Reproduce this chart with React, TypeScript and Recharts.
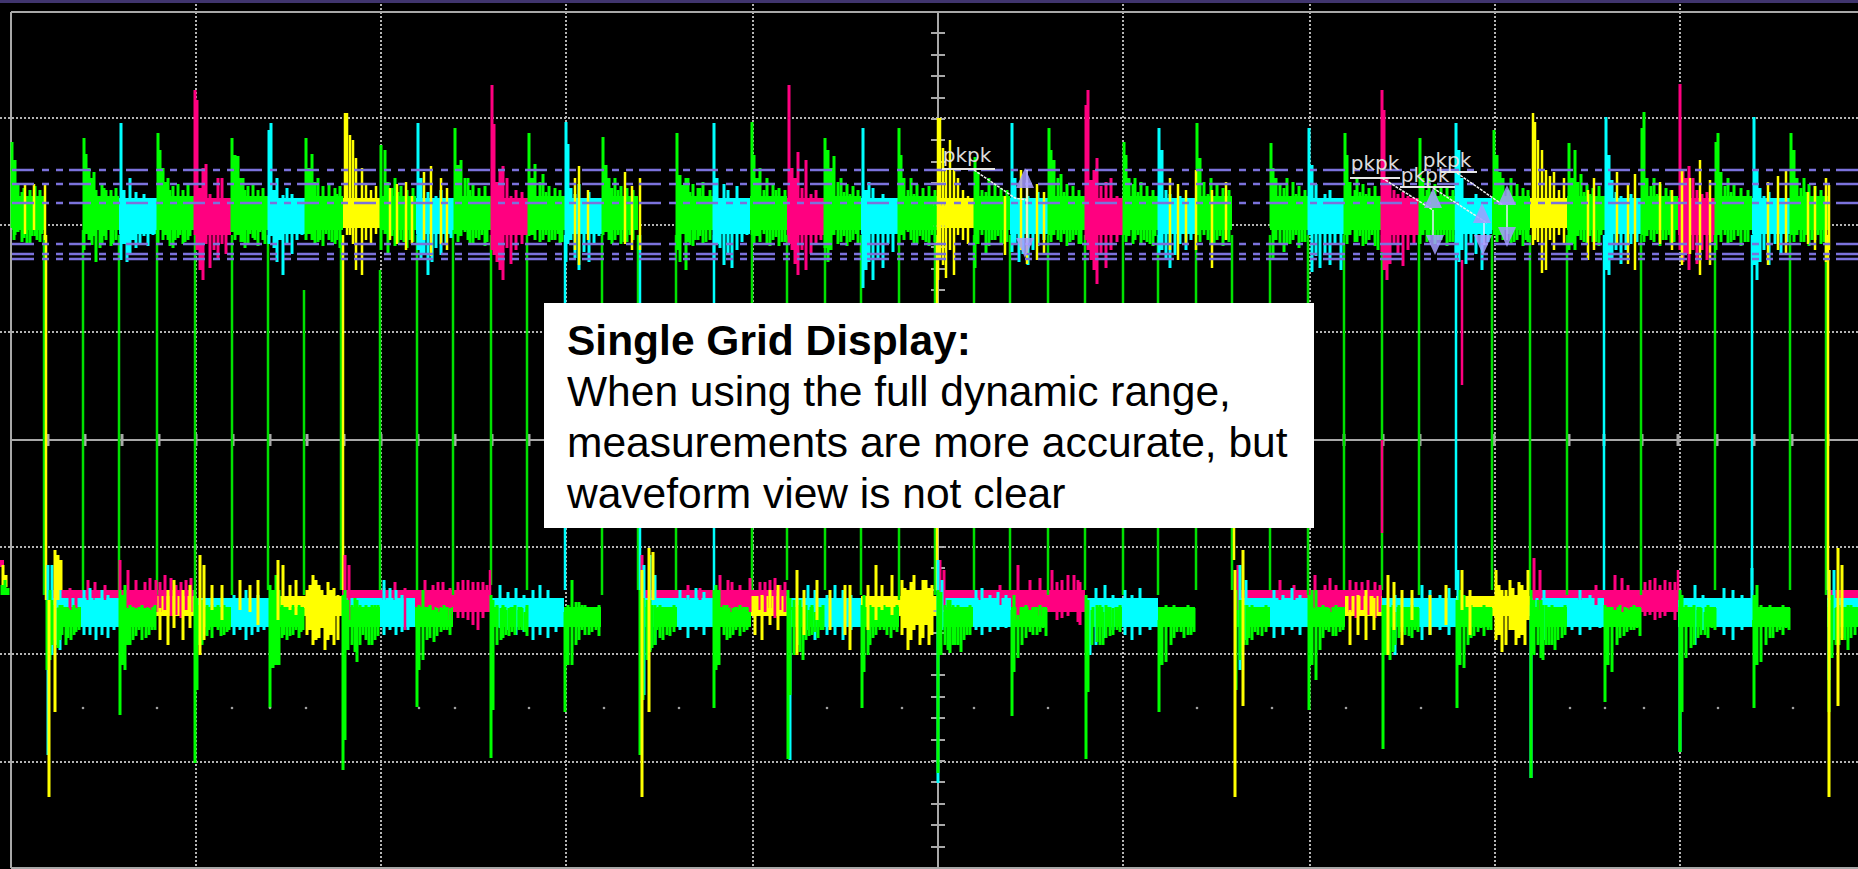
import React from "react";
import {
  Area,
  CartesianGrid,
  ComposedChart,
  Line,
  ReferenceDot,
  Scatter,
  XAxis,
  YAxis,
} from "recharts";

// time axis runs 0..1858 (185 units per division), level axis +440..-429 (107 units per division)
const gridTimes = [196, 381, 566, 753, 1123, 1310, 1495, 1680];
const gridLevels = [322, 215, 108, -107, -214, -322];
const measureLevels = [270, 256, 237, 196, 186, 181];
const centerTicks = [
  407, 385, 364, 342, 321, 300, 278, 257, 235, 214, 193, 171, 150, 128, 107, 86, 64, 43, 21,
  -21, -43, -64, -86, -107, -128, -150, -171, -193, -214, -235, -257, -278, -300, -321, -342, -364, -385, -407,
];
const centerTimeTicks = [
  48, 85, 122, 159, 196, 233, 270, 307, 344, 381, 418, 455, 492, 529, 1344, 1383, 1420, 1494, 1569, 1604, 1642, 1678, 1717, 1754, 1792, 1828,
];
const smallDots = [
  83, 157, 232, 270, 306, 419, 455, 529, 604, 679, 827, 902, 974, 1048, 1197, 1272, 1346, 1421, 1570, 1605, 1644, 1718, 1793,
];

// solid parts of the top trace [start, end]
const topGreenBand = [
  [11, 46], [83, 119], [157, 194], [231, 268], [305, 343], [380, 416], [454, 491], [528, 565], [602, 638],
  [676, 713], [750, 787], [825, 861], [899, 937], [974, 1010], [1048, 1085], [1123, 1158], [1195, 1232],
  [1270, 1308], [1344, 1382], [1419, 1456], [1492, 1530], [1567, 1605], [1641, 1678], [1715, 1752], [1791, 1828],
];
const topCyanBand = [
  [119, 157], [268, 305], [416, 454], [565, 602], [713, 750], [861, 899], [1010, 1048], [1158, 1195],
  [1308, 1344], [1456, 1492], [1605, 1641], [1752, 1791],
];
const topPinkBand = [[194, 231], [491, 528], [787, 825], [1085, 1123], [1382, 1419], [1678, 1715]];
const topYellowBand = [[343, 380], [937, 974], [1530, 1567]];

// tall and noisy columns of the top trace [time, low, high]
const topGreen = [
  [12, 212, 298], [15, 205, 280], [18, 208, 256], [22, 198, 248], [27, 196, 240], [32, 204, 238], [37, 200, 240], [42, 206, 236],
  [84, 190, 302], [86, 206, 286], [89, 200, 272], [92, 195, 262], [96, 178, 250], [100, 192, 236], [104, 204, 252], [108, 210, 240], [113, 196, 238],
  [158, 196, 307], [160, 210, 290], [163, 200, 272], [166, 205, 258], [170, 194, 250], [175, 200, 244], [180, 205, 240], [185, 198, 242], [190, 204, 238],
  [232, 208, 302], [235, 200, 285], [238, 205, 284], [241, 198, 262], [245, 192, 250], [250, 206, 240], [255, 200, 244], [260, 208, 240], [265, 196, 236],
  [306, 200, 302], [309, 206, 272], [312, 200, 286], [315, 195, 258], [320, 200, 244], [326, 206, 240], [332, 198, 242], [337, 200, 246],
  [381, 190, 295], [385, 206, 290], [388, 186, 258], [392, 204, 252], [398, 196, 248], [404, 198, 244], [410, 200, 238],
  [455, 206, 312], [458, 198, 275], [461, 204, 280], [465, 208, 262], [470, 196, 250], [476, 202, 242], [482, 205, 240], [487, 198, 238],
  [529, 204, 307], [532, 205, 262], [535, 200, 276], [540, 198, 258], [546, 205, 248], [552, 200, 240], [558, 206, 238], [562, 198, 236],
  [603, 205, 303], [606, 208, 275], [609, 200, 262], [612, 196, 252], [618, 205, 250], [624, 198, 244], [630, 205, 240],
  [677, 190, 307], [680, 178, 265], [683, 206, 255], [686, 170, 262], [690, 195, 248], [695, 200, 244], [700, 204, 252], [706, 198, 238],
  [752, 205, 318], [754, 196, 285], [757, 204, 262], [760, 198, 272], [764, 206, 250], [770, 194, 244], [776, 203, 250], [782, 198, 240],
  [825, 192, 302], [828, 178, 290], [831, 190, 272], [834, 205, 284], [838, 196, 258], [844, 204, 248], [850, 198, 246], [856, 206, 240],
  [899, 196, 312], [901, 205, 285], [904, 200, 262], [908, 208, 250], [914, 196, 246], [920, 204, 244], [926, 198, 240], [932, 205, 238],
  [975, 172, 283], [978, 196, 268], [982, 205, 250], [986, 185, 248], [992, 200, 244], [998, 204, 240], [1004, 196, 238],
  [1049, 205, 312], [1051, 198, 290], [1054, 205, 280], [1058, 200, 262], [1064, 206, 248], [1070, 198, 244], [1076, 205, 240], [1081, 196, 238],
  [1124, 205, 298], [1126, 198, 285], [1129, 204, 262], [1133, 196, 256], [1138, 205, 248], [1144, 200, 242], [1150, 196, 240], [1155, 204, 238],
  [1197, 205, 317], [1200, 198, 282], [1204, 205, 258], [1208, 200, 246], [1214, 196, 244], [1220, 204, 240], [1226, 200, 238],
  [1271, 212, 297], [1273, 180, 272], [1276, 200, 262], [1280, 196, 256], [1284, 188, 252], [1290, 196, 244], [1296, 205, 246], [1302, 198, 240],
  [1345, 205, 307], [1347, 196, 285], [1350, 205, 258], [1355, 198, 250], [1360, 204, 248], [1366, 196, 246], [1372, 205, 244], [1378, 190, 240],
  [1420, 196, 302], [1423, 205, 262], [1427, 198, 250], [1432, 205, 248], [1438, 200, 244], [1444, 205, 240], [1450, 198, 238],
  [1494, 205, 310], [1497, 198, 285], [1500, 205, 268], [1503, 200, 262], [1508, 206, 250], [1514, 198, 244], [1520, 205, 240], [1526, 200, 238],
  [1569, 190, 297], [1572, 196, 262], [1575, 190, 290], [1578, 204, 258], [1584, 198, 248], [1590, 204, 246], [1596, 198, 242], [1601, 205, 240],
  [1642, 205, 312], [1644, 198, 328], [1647, 204, 262], [1651, 200, 254], [1657, 206, 246], [1663, 200, 244], [1669, 205, 240], [1674, 198, 238],
  [1716, 190, 298], [1718, 205, 307], [1721, 198, 268], [1725, 205, 254], [1731, 198, 248], [1738, 204, 244], [1745, 198, 240],
  [1791, 205, 307], [1794, 198, 290], [1797, 205, 262], [1801, 198, 252], [1806, 205, 248], [1812, 200, 244], [1818, 205, 240], [1824, 198, 238],
];
// in-between noise of the top trace, same shape
const topGreenFill = [
  [14, 200, 262], [24, 202, 252], [30, 196, 250], [35, 204, 254], [40, 198, 250],
  [94, 204, 268], [102, 196, 256], [106, 200, 250], [111, 194, 250], [116, 200, 252],
  [168, 200, 262], [173, 192, 254], [178, 202, 256], [183, 196, 250], [188, 200, 256],
  [243, 198, 262], [248, 196, 254], [253, 202, 256], [258, 194, 250], [263, 200, 252],
  [318, 198, 262], [323, 194, 254], [329, 200, 256], [335, 196, 252], [340, 192, 254],
  [395, 194, 262], [401, 200, 254], [407, 192, 250], [413, 198, 252],
  [468, 200, 262], [473, 196, 256], [479, 200, 252], [485, 194, 254],
  [543, 200, 266], [549, 198, 254], [555, 200, 252], [560, 196, 250],
  [615, 200, 262], [621, 196, 254], [627, 198, 252], [633, 200, 250],
  [688, 198, 262], [693, 194, 256], [698, 200, 252], [703, 196, 258], [710, 200, 250],
  [767, 196, 262], [773, 200, 256], [779, 194, 252], [785, 198, 250],
  [841, 198, 262], [847, 194, 256], [853, 200, 254], [858, 196, 250],
  [911, 200, 262], [917, 196, 256], [923, 200, 252], [929, 194, 254], [935, 198, 250],
  [989, 194, 262], [995, 200, 256], [1001, 196, 252], [1007, 198, 250],
  [1061, 198, 266], [1067, 194, 256], [1073, 200, 254], [1079, 196, 250],
  [1135, 200, 262], [1141, 196, 258], [1147, 198, 254], [1153, 194, 250],
  [1211, 196, 262], [1217, 200, 256], [1223, 194, 252], [1229, 198, 250],
  [1287, 196, 262], [1293, 200, 258], [1299, 192, 254], [1305, 198, 250],
  [1357, 198, 262], [1363, 194, 256], [1369, 200, 252], [1375, 194, 254],
  [1429, 200, 262], [1435, 196, 256], [1441, 200, 252], [1447, 194, 254], [1453, 198, 250],
  [1511, 196, 262], [1517, 200, 256], [1523, 194, 252], [1528, 198, 250],
  [1581, 200, 266], [1587, 196, 256], [1593, 198, 252], [1599, 194, 254],
  [1654, 198, 262], [1660, 194, 256], [1666, 200, 252], [1671, 196, 250],
  [1728, 196, 262], [1734, 200, 256], [1741, 194, 252], [1748, 198, 250],
  [1804, 198, 262], [1809, 194, 256], [1815, 200, 254], [1821, 196, 250],
];
const topCyan = [
  [121, 180, 317], [124, 196, 250], [127, 178, 242], [130, 186, 262], [133, 200, 240], [136, 192, 248], [140, 196, 238], [144, 204, 246], [148, 194, 232], [153, 205, 236],
  [269, 196, 310], [271, 204, 317], [274, 192, 250], [277, 178, 262], [280, 200, 240], [283, 165, 245], [287, 196, 252], [292, 186, 246], [297, 200, 242], [302, 205, 238],
  [418, 190, 317], [421, 180, 262], [424, 185, 240], [428, 165, 248], [432, 178, 236], [436, 192, 244], [441, 185, 250], [446, 196, 240], [451, 202, 238],
  [566, 178, 318], [568, 196, 296], [571, 200, 252], [575, 182, 246], [579, 170, 256], [584, 188, 240], [589, 178, 248], [594, 196, 238], [599, 204, 236],
  [714, 180, 317], [717, 196, 262], [720, 192, 242], [724, 175, 256], [728, 186, 250], [732, 172, 240], [737, 190, 254], [742, 198, 240], [747, 205, 232],
  [863, 152, 312], [866, 170, 250], [869, 178, 258], [873, 160, 252], [878, 180, 240], [883, 172, 246], [888, 196, 238], [893, 188, 242],
  [1012, 188, 317], [1015, 196, 262], [1019, 178, 240], [1023, 186, 236], [1028, 175, 244], [1033, 190, 238], [1038, 194, 248], [1044, 200, 236],
  [1159, 186, 312], [1162, 190, 290], [1166, 180, 250], [1170, 172, 246], [1175, 185, 240], [1180, 196, 244], [1186, 190, 238], [1191, 200, 236],
  [1309, 205, 312], [1312, 168, 275], [1316, 184, 256], [1320, 172, 240], [1325, 186, 246], [1330, 175, 250], [1335, 196, 240], [1341, 170, 238],
  [1456, 186, 317], [1459, 178, 290], [1462, 190, 262], [1466, 176, 242], [1471, 196, 238], [1476, 186, 246], [1482, 170, 240], [1488, 198, 238],
  [1606, 170, 323], [1609, 165, 285], [1612, 180, 260], [1616, 190, 248], [1621, 176, 244], [1626, 190, 240], [1631, 196, 246], [1637, 198, 238],
  [1754, 175, 323], [1757, 160, 270], [1760, 178, 252], [1764, 190, 244], [1769, 175, 248], [1775, 196, 240], [1781, 186, 236], [1787, 198, 238],
];
const topPink = [
  [195, 205, 350], [197, 190, 340], [200, 170, 252], [203, 160, 272], [206, 196, 276], [210, 172, 246], [214, 190, 240], [218, 180, 262], [222, 196, 262], [226, 186, 240],
  [492, 190, 355], [494, 185, 316], [497, 178, 258], [500, 170, 270], [503, 160, 274], [507, 192, 262], [511, 176, 244], [516, 190, 250], [522, 196, 248],
  [789, 196, 355], [792, 190, 272], [795, 176, 262], [798, 165, 288], [802, 190, 252], [806, 170, 280], [811, 186, 246], [816, 195, 250], [821, 200, 240],
  [1086, 200, 335], [1088, 190, 350], [1091, 180, 260], [1094, 170, 270], [1097, 156, 282], [1101, 185, 254], [1106, 172, 258], [1111, 190, 262], [1117, 198, 244],
  [1382, 188, 350], [1384, 170, 330], [1387, 160, 262], [1390, 176, 256], [1394, 196, 250], [1398, 186, 246], [1403, 174, 248], [1408, 190, 244], [1414, 196, 240],
  [1680, 190, 356], [1683, 178, 270], [1686, 186, 262], [1689, 170, 274], [1693, 190, 262], [1697, 176, 250], [1702, 190, 246], [1707, 180, 248], [1712, 198, 240],
];
const topYellow = [
  [345, 212, 327], [347, 205, 327], [350, 205, 305], [353, 196, 300], [356, 170, 282], [362, 165, 272], [366, 200, 256], [371, 195, 250], [376, 206, 254],
  [25, 206, 256], [34, 210, 256], [45, 200, 256],
  [390, 200, 252], [397, 196, 256], [406, 190, 258], [412, 196, 244], [424, 200, 268], [431, 184, 274], [441, 196, 262], [447, 190, 252],
  [575, 190, 262], [579, 175, 274], [588, 200, 250], [640, 190, 262],
  [625, 196, 268], [632, 190, 254],
  [938, 160, 322], [940, 180, 322], [943, 175, 292], [946, 162, 270], [950, 190, 300], [954, 165, 272], [958, 205, 262], [963, 200, 250], [968, 196, 244],
  [1005, 185, 244], [1021, 190, 270], [1027, 176, 260], [1037, 180, 256], [1044, 186, 248],
  [1170, 190, 262], [1178, 180, 256], [1186, 196, 250], [1196, 190, 270], [1212, 172, 250], [1226, 200, 258],
  [1533, 195, 327], [1535, 200, 318], [1538, 198, 300], [1542, 167, 290], [1546, 170, 270], [1550, 200, 264], [1554, 190, 268], [1559, 205, 250], [1564, 196, 262],
  [1588, 180, 250], [1594, 190, 262], [1617, 196, 268], [1628, 176, 256], [1635, 170, 266], [1660, 196, 258], [1672, 190, 250],
  [1682, 175, 270], [1690, 186, 262], [1700, 165, 280], [1710, 175, 260], [1768, 175, 258], [1778, 190, 264], [1786, 186, 270],
  [1808, 196, 248], [1815, 190, 254], [1826, 178, 262], [1829, 190, 255],
];

// solid parts of the bottom trace [start, end]
const lowPinkBand = [
  [46, 194], [342, 490], [640, 787], [937, 1085], [1234, 1382], [1530, 1678], [1827, 1858],
];
const lowCyanBand = [
  [46, 119], [194, 269], [342, 415], [490, 564], [640, 713], [787, 861], [937, 1011], [1085, 1158], [1234, 1308], [1382, 1456], [1530, 1604], [1678, 1752], [1827, 1858],
];
const lowGreenBand = [
  [46, 81], [119, 156], [194, 231], [269, 304], [342, 380], [415, 453], [490, 528], [564, 601], [640, 677], [713, 751], [787, 824], [861, 899],
  [937, 973], [1011, 1047], [1085, 1122], [1158, 1195], [1234, 1270], [1308, 1345], [1382, 1419], [1456, 1492], [1530, 1567], [1604, 1641], [1678, 1716], [1752, 1790], [1827, 1858],
];
const lowYellowBand = [[156, 194], [269, 342], [751, 787], [861, 937], [1345, 1382], [1456, 1530]];

// columns of the bottom trace [time, low, high]
const lowGreen = [
  [47, -230, -160], [50, -220, -150], [54, -200, -165], [58, -208, -168], [62, -195, -165], [66, -205, -168], [71, -200, -170], [76, -192, -168],
  [120, -275, -150], [122, -225, -155], [125, -230, -145], [128, -205, -168], [133, -200, -170], [139, -190, -170], [146, -198, -168], [152, -190, -172],
  [195, -323, -150], [197, -250, -158], [200, -205, -165], [204, -195, -168], [209, -190, -172], [215, -185, -170], [221, -196, -172], [227, -192, -170],
  [270, -268, -145], [273, -228, -150], [276, -225, -135], [279, -225, -150], [284, -195, -168], [290, -196, -170], [296, -190, -172], [301, -192, -170],
  [343, -330, -155], [345, -300, -150], [348, -210, -160], [352, -205, -165], [357, -222, -160], [363, -195, -168], [369, -205, -170], [375, -200, -165],
  [417, -267, -170], [419, -230, -165], [423, -220, -150], [427, -200, -168], [434, -202, -172], [441, -192, -170], [447, -190, -175],
  [491, -318, -155], [493, -270, -160], [497, -205, -165], [501, -200, -168], [506, -195, -170], [512, -192, -172], [519, -190, -170], [525, -192, -172],
  [565, -272, -172], [568, -225, -165], [572, -225, -140], [576, -205, -162], [582, -190, -165], [589, -195, -178], [596, -190, -172],
  [640, -315, -150], [643, -260, -158], [647, -220, -160], [652, -208, -165], [657, -190, -168], [663, -200, -170], [670, -196, -170],
  [714, -268, -150], [716, -230, -145], [719, -225, -150], [724, -195, -165], [730, -198, -172], [736, -190, -170], [744, -192, -172],
  [788, -319, -150], [790, -255, -158], [794, -215, -160], [798, -205, -165], [803, -220, -168], [809, -196, -170], [815, -192, -172], [821, -190, -170],
  [862, -268, -165], [864, -232, -155], [868, -215, -168], [873, -198, -172], [880, -190, -170], [887, -195, -172], [894, -190, -172],
  [938, -333, -150], [941, -215, -152], [945, -205, -165], [950, -213, -160], [955, -205, -168], [961, -212, -168], [967, -195, -170],
  [1012, -276, -170], [1014, -232, -155], [1018, -218, -175], [1022, -205, -170], [1030, -192, -172], [1037, -195, -175], [1043, -188, -170],
  [1086, -319, -155], [1088, -252, -160], [1092, -205, -170], [1097, -202, -165], [1103, -205, -172], [1110, -196, -170], [1117, -190, -172],
  [1159, -272, -180], [1162, -225, -172], [1166, -222, -165], [1171, -205, -172], [1177, -192, -172], [1184, -198, -172], [1191, -195, -172],
  [1236, -250, -150], [1240, -220, -160], [1244, -205, -165], [1249, -198, -168], [1255, -192, -170], [1262, -196, -172],
  [1309, -270, -155], [1312, -225, -150], [1316, -240, -150], [1320, -210, -170], [1326, -190, -172], [1333, -196, -172], [1340, -192, -172],
  [1383, -309, -165], [1386, -215, -165], [1390, -220, -168], [1395, -205, -172], [1402, -192, -170], [1409, -196, -172], [1415, -190, -175],
  [1457, -268, -160], [1460, -225, -150], [1464, -228, -155], [1468, -205, -170], [1474, -196, -172], [1481, -188, -172], [1488, -190, -172],
  [1531, -338, -150], [1534, -215, -160], [1538, -205, -160], [1543, -220, -165], [1549, -205, -168], [1555, -210, -170], [1562, -198, -170],
  [1605, -262, -165], [1608, -225, -168], [1612, -232, -170], [1617, -205, -170], [1624, -196, -172], [1631, -190, -170], [1637, -188, -172],
  [1680, -312, -150], [1682, -272, -155], [1686, -218, -165], [1691, -208, -172], [1698, -198, -170], [1705, -195, -172], [1712, -188, -172],
  [1754, -268, -155], [1757, -225, -145], [1761, -222, -165], [1766, -205, -170], [1773, -198, -170], [1780, -190, -172], [1786, -188, -172],
  [1829, -272, -160], [1832, -218, -155], [1836, -205, -168], [1842, -198, -170], [1848, -210, -165], [1855, -195, -170],
];
const lowCyan = [
  [48, -315, -125], [52, -215, -125], [56, -205, -130], [60, -210, -150], [84, -195, -150], [90, -195, -148], [96, -200, -158], [102, -195, -150], [108, -198, -155], [114, -190, -160],
  [234, -195, -155], [240, -190, -158], [246, -200, -150], [252, -195, -160], [258, -192, -155], [264, -190, -158],
  [384, -195, -140], [390, -190, -148], [396, -195, -150], [402, -192, -155], [408, -190, -158],
  [500, -188, -145], [508, -190, -152], [516, -195, -148], [524, -192, -155], [533, -200, -150], [540, -195, -145], [548, -198, -150], [556, -192, -158],
  [644, -255, -125], [650, -210, -115], [655, -205, -135], [680, -190, -150], [688, -198, -155], [696, -190, -148], [704, -195, -152],
  [790, -320, -170], [808, -190, -145], [815, -200, -150], [827, -195, -155], [835, -195, -145], [843, -200, -150], [851, -190, -155],
  [938, -343, -120], [942, -190, -140], [976, -190, -150], [982, -195, -148], [990, -192, -155], [998, -190, -152], [1006, -188, -155],
  [1090, -215, -165], [1096, -205, -148], [1105, -198, -145], [1113, -190, -155], [1125, -195, -150], [1132, -200, -155], [1140, -195, -148], [1150, -190, -158],
  [1240, -230, -125], [1246, -200, -140], [1274, -198, -150], [1283, -195, -155], [1292, -190, -148], [1300, -195, -155],
  [1395, -215, -155], [1422, -200, -145], [1430, -195, -150], [1440, -190, -155], [1449, -195, -148], [1458, -180, -130],
  [1531, -338, -165], [1544, -200, -150], [1572, -190, -160], [1580, -195, -150], [1590, -190, -155], [1600, -188, -158],
  [1680, -312, -165], [1695, -205, -145], [1703, -190, -155], [1724, -195, -148], [1733, -200, -150], [1742, -190, -155], [1752, -180, -128],
  [1829, -240, -130], [1834, -200, -130],
];
const lowPink = [
  [70, -170, -148], [76, -170, -155], [95, -160, -142], [120, -150, -120], [128, -168, -130], [136, -170, -140], [145, -168, -142], [156, -172, -140], [165, -170, -135], [176, -175, -145], [186, -170, -140],
  [345, -195, -115], [349, -180, -125], [384, -160, -148], [395, -160, -142], [405, -190, -148], [425, -155, -140], [433, -170, -145], [443, -168, -142], [458, -178, -142], [468, -180, -140], [478, -190, -142], [487, -170, -145],
  [642, -170, -115], [688, -160, -145], [700, -160, -148], [720, -165, -135], [728, -168, -140], [740, -170, -145], [760, -170, -142], [770, -168, -140], [780, -170, -145],
  [940, -160, -120], [944, -170, -130], [980, -160, -150], [1000, -165, -145], [1018, -180, -125], [1030, -170, -140], [1052, -170, -130], [1062, -178, -140], [1074, -170, -135], [1080, -185, -142],
  [1238, -170, -125], [1280, -160, -140], [1294, -160, -145], [1315, -168, -135], [1325, -165, -145], [1336, -168, -145], [1350, -172, -140], [1362, -170, -142], [1375, -178, -142],
  [1534, -160, -118], [1540, -170, -130], [1580, -160, -150], [1596, -165, -145], [1615, -170, -135], [1628, -170, -145], [1650, -175, -140], [1660, -178, -145], [1670, -172, -142],
  [88, -160, -140], [105, -160, -145], [150, -170, -138], [160, -172, -142], [171, -176, -138], [181, -178, -142], [191, -172, -138],
  [438, -172, -142], [450, -180, -148], [463, -178, -140], [473, -185, -142], [483, -178, -142],
  [732, -172, -142], [750, -172, -138], [765, -172, -142], [775, -178, -138], [785, -172, -142],
  [1040, -176, -138], [1057, -180, -142], [1068, -176, -135], [1078, -182, -140],
  [1330, -172, -138], [1356, -178, -142], [1368, -175, -140], [1380, -172, -145],
  [1622, -172, -138], [1645, -176, -142], [1655, -180, -138], [1665, -176, -140], [1675, -180, -142],
];
const lowYellow = [
  [49, -357, -160], [55, -272, -110], [58, -160, -115], [61, -150, -120],
  [160, -200, -168], [168, -205, -150], [174, -188, -140], [183, -200, -150], [190, -188, -145],
  [200, -215, -115], [204, -200, -125], [212, -170, -145], [222, -180, -145], [240, -170, -140], [250, -172, -145], [258, -185, -140],
  [278, -180, -120], [283, -160, -125], [290, -170, -145], [296, -175, -140], [307, -195, -150], [313, -205, -135], [319, -198, -145], [325, -210, -155], [331, -195, -150], [338, -200, -155],
  [310, -190, -145], [316, -200, -140], [322, -188, -150], [328, -200, -142], [334, -205, -148],
  [642, -357, -130], [649, -272, -108], [653, -160, -112],
  [755, -195, -168], [762, -200, -155], [770, -185, -150], [778, -190, -145],
  [797, -215, -130], [804, -195, -150], [817, -180, -140], [830, -190, -150], [845, -195, -145], [850, -210, -145],
  [868, -190, -145], [876, -180, -125], [882, -170, -145], [892, -175, -135],
  [902, -195, -140], [908, -210, -150], [914, -190, -135], [920, -205, -150], [926, -185, -140], [932, -195, -145],
  [905, -188, -148], [911, -200, -142], [917, -185, -150], [923, -198, -140], [929, -205, -148],
  [1235, -357, -130], [1243, -266, -110],
  [1350, -205, -170], [1358, -195, -155], [1366, -200, -150], [1374, -190, -158],
  [1388, -215, -135], [1394, -190, -142], [1402, -205, -150], [1412, -180, -150], [1430, -195, -155], [1446, -185, -145], [1462, -170, -130], [1470, -195, -150],
  [1496, -200, -130], [1502, -212, -150], [1510, -190, -140], [1516, -205, -155], [1522, -195, -145], [1528, -180, -130],
  [1499, -195, -145], [1506, -205, -150], [1513, -190, -148], [1519, -198, -142], [1525, -205, -150],
  [1829, -357, -130], [1838, -266, -108], [1842, -200, -125],
];
const lowGreenFill = [
  [52, -205, -160], [60, -200, -165], [68, -198, -168], [74, -195, -165], [79, -190, -168],
  [130, -205, -165], [136, -196, -168], [142, -200, -165], [149, -195, -168], [155, -190, -165],
  [202, -205, -160], [207, -196, -165], [212, -198, -165], [218, -190, -165], [224, -195, -165], [229, -190, -168],
  [282, -198, -165], [287, -200, -168], [293, -195, -165], [299, -198, -165], [303, -190, -168],
  [355, -212, -158], [360, -205, -165], [366, -200, -165], [372, -205, -165], [378, -196, -165],
  [430, -198, -165], [437, -196, -168], [444, -190, -165], [450, -195, -168],
  [503, -198, -165], [509, -196, -168], [515, -195, -165], [522, -190, -168], [527, -196, -165],
  [579, -200, -162], [585, -195, -165], [592, -192, -168], [599, -196, -165],
  [650, -212, -160], [655, -205, -165], [660, -198, -165], [667, -195, -168], [674, -192, -165],
  [727, -200, -165], [733, -195, -168], [740, -196, -165], [747, -190, -168],
  [800, -212, -160], [806, -200, -165], [812, -195, -165], [818, -198, -168], [823, -190, -165],
  [870, -205, -165], [876, -195, -168], [884, -190, -165], [891, -198, -168], [897, -192, -165],
  [948, -210, -160], [953, -205, -165], [958, -205, -165], [964, -200, -168], [970, -195, -165],
  [1026, -198, -165], [1033, -195, -168], [1040, -192, -165], [1046, -196, -168],
  [1100, -205, -165], [1106, -198, -165], [1113, -195, -168], [1120, -192, -165],
  [1174, -198, -165], [1181, -192, -168], [1188, -195, -165], [1194, -192, -168],
  [1242, -212, -160], [1247, -205, -165], [1252, -200, -165], [1258, -195, -168], [1266, -192, -165],
  [1323, -198, -165], [1329, -192, -168], [1336, -196, -165], [1343, -190, -168],
  [1393, -212, -165], [1399, -198, -165], [1405, -195, -168], [1412, -198, -165], [1418, -192, -168],
  [1471, -198, -165], [1478, -192, -168], [1484, -196, -165], [1491, -190, -168],
  [1541, -218, -160], [1546, -205, -165], [1552, -205, -165], [1558, -200, -168], [1565, -195, -165],
  [1620, -198, -165], [1627, -192, -168], [1634, -190, -165], [1640, -196, -168],
  [1694, -205, -165], [1701, -195, -168], [1708, -198, -165], [1715, -190, -168],
  [1770, -198, -165], [1777, -192, -168], [1783, -195, -165], [1789, -190, -168],
  [1839, -205, -165], [1845, -200, -168], [1851, -198, -165],
];

// long traces that join the top and the bottom parts [time, low, high]
const linkGreen = [
  [44, -155, 205], [83, -150, 210], [119, -150, 205], [157, -155, 210], [195, -150, 205], [232, -155, 205], [268, -150, 205], [304, -155, 150], [341, -150, 205],
  [380, -150, 170], [417, -150, 205], [453, -155, 210], [491, -145, 205], [527, -150, 205], [602, -155, 205], [638, -150, 205], [676, -150, 205], [752, -150, 205],
  [787, -140, 205], [825, -150, 205], [861, -155, 205], [899, -160, 205], [935, -155, 205], [974, -150, 205], [1010, -150, 205], [1048, -155, 205], [1085, -150, 205],
  [1123, -155, 205], [1158, -155, 205], [1196, -150, 205], [1232, -150, 205], [1270, -150, 205], [1308, -155, 205], [1344, -150, 205], [1382, -150, 205],
  [1419, -155, 205], [1492, -150, 205], [1530, -150, 205], [1567, -155, 205], [1641, -155, 205], [1715, -150, 205], [1790, -150, 205], [1826, -155, 205],
];
const linkCyan = [[565, -150, 205], [640, -150, 205], [714, -150, 205], [1456, -150, 205], [1604, -150, 205], [1752, -150, 205]];
const linkYellow = [[46, -160, 205], [343, -150, 205], [937, -150, 205], [1234, -120, -60], [1828, -150, 205]];
const linkPink = [[1382, -93, 0], [1462, 55, 180], [490, -168, -130], [1678, -160, -130]];

// measurement overlay
const leaderLines = [
  [[974, 270], [1015, 242], [1027, 240]],
  [[1382, 262], [1433, 230]],
  [[1433, 252], [1487, 217]],
  [[1457, 267], [1503, 235]],
];
const leaderBars = [
  [942, 995, 271], [1350, 1400, 262], [1400, 1455, 253], [1440, 1477, 268],
];
const leaderDrops = [[1027, 195, 270], [1433, 205, 230], [1484, 195, 217], [1507, 200, 235]];
const upArrows = [[1025, 262], [1433, 242], [1482, 227], [1507, 245]];
const downArrows = [[1025, 192], [1435, 195], [1483, 195], [1507, 203]];
const pkpkLabels = [[967, 285], [1375, 277], [1425, 265], [1447, 280]];

const annotationTitle = "Single Grid Display:";
const annotationLines = [
  "When using the full dynamic range,",
  "measurements are more accurate, but",
  "waveform view is not clear",
];

const toColumns = (cols: number[][]) =>
  cols.flatMap(([t, lo, hi]) => [
    { t, v: lo },
    { t, v: hi },
    { t, v: null },
  ]);

const toBand = (spans: number[][], lo: number, hi: number) =>
  spans.flatMap(([a, b]) => [
    { t: a, r: [lo, hi] },
    { t: b, r: [lo, hi] },
    { t: b, r: null },
  ]);

const GREEN = "#00ff00";
const LINK_GREEN = "#00e000";
const CYAN = "#00ffff";
const PINK = "#ff0080";
const YELLOW = "#ffff00";
const PURPLE = "#7b72dc";
const GRID = "#b4b4b4";

const bands: [string, number[][], number, number, string][] = [
  ["low-pink", lowPinkBand, -172, -150, PINK],
  ["low-cyan", lowCyanBand, -187, -158, CYAN],
  ["low-yellow", lowYellowBand, -176, -156, YELLOW],
  ["low-green", lowGreenBand, -187, -167, GREEN],
  ["top-yellow", topYellowBand, 212, 242, YELLOW],
  ["top-pink", topPinkBand, 205, 242, PINK],
  ["top-cyan", topCyanBand, 206, 242, CYAN],
  ["top-green", topGreenBand, 210, 244, GREEN],
];

const columns: [string, number[][], string, number][] = [
  ["link-green", linkGreen, LINK_GREEN, 2.5],
  ["link-cyan", linkCyan, CYAN, 2.5],
  ["link-yellow", linkYellow, YELLOW, 2.5],
  ["link-pink", linkPink, PINK, 2.5],
  ["top-pink", topPink, PINK, 3],
  ["top-cyan", topCyan, CYAN, 3],
  ["top-green", topGreen, GREEN, 3],
  ["top-green-fill", topGreenFill, GREEN, 3],
  ["top-yellow", topYellow, YELLOW, 2.5],
  ["low-pink", lowPink, PINK, 3],
  ["low-cyan", lowCyan, CYAN, 3],
  ["low-green", lowGreen, GREEN, 3],
  ["low-green-fill", lowGreenFill, GREEN, 3],
  ["low-yellow", lowYellow, YELLOW, 3],
];

const hLine = (a: number, b: number, v: number) => [
  { t: a, v },
  { t: b, v },
];

const Triangle = ({ cx, cy, down }: { cx?: number; cy?: number; down?: boolean }) => {
  const x = cx ?? 0;
  const y = cy ?? 0;
  const d = down ? 10 : -10;
  return <polygon points={`${x - 9},${y - d} ${x + 9},${y - d} ${x},${y + d}`} fill="#a49cff" fillOpacity={0.85} />;
};

export default function App() {
  return (
    <div style={{ position: "absolute", left: 0, top: 0, width: 1858, height: 869, background: "#000", overflow: "hidden", fontFamily: "'DejaVu Sans'" }}>
      <ComposedChart width={1858} height={869} margin={{ top: 0, right: 0, bottom: 0, left: 0 }}>
        <XAxis type="number" dataKey="t" domain={[0, 1858]} hide allowDataOverflow />
        <YAxis type="number" domain={[-429, 440]} hide allowDataOverflow />
        <CartesianGrid
          stroke={GRID}
          strokeDasharray="2 2"
          strokeWidth={2}
          verticalValues={gridTimes}
          horizontalValues={gridLevels}
        />

        {/* frame and centre cross */}
        <Line data={hLine(11, 1858, 428)} dataKey="v" stroke="#a8a8a8" strokeWidth={2} dot={false} isAnimationActive={false} />
        <Line data={hLine(11, 1858, -428)} dataKey="v" stroke="#a8a8a8" strokeWidth={2} dot={false} isAnimationActive={false} />
        <Line data={[{ t: 11, v: 428 }, { t: 11, v: -428 }]} dataKey="v" stroke="#a8a8a8" strokeWidth={2} dot={false} isAnimationActive={false} />
        <Line data={hLine(11, 1858, 0)} dataKey="v" stroke="#a8a8a8" strokeWidth={2} dot={false} isAnimationActive={false} />
        <Line data={[{ t: 938, v: 428 }, { t: 938, v: -428 }]} dataKey="v" stroke="#a8a8a8" strokeWidth={2} dot={false} isAnimationActive={false} />
        <Line
          data={centerTicks.flatMap((v) => [{ t: 931, v }, { t: 945, v }, { t: 945, v: null }])}
          dataKey="v"
          stroke="#a8a8a8"
          strokeWidth={2}
          dot={false}
          isAnimationActive={false}
        />
        <Line
          data={centerTimeTicks.flatMap((t) => [{ t, v: -6 }, { t, v: 6 }, { t, v: null }])}
          dataKey="v"
          stroke="#a8a8a8"
          strokeWidth={3}
          dot={false}
          isAnimationActive={false}
        />
        <Scatter data={smallDots.map((t) => ({ t, v: -268 }))} dataKey="v" fill="#a0a0a0" shape={(p: any) => <circle cx={p.cx} cy={p.cy} r={1.3} fill="#a0a0a0" />} isAnimationActive={false} />

        {bands.map(([name, spans, lo, hi, color]) => (
          <Area
            key={"band-" + name}
            data={toBand(spans, lo, hi)}
            dataKey="r"
            type="linear"
            stroke="none"
            fill={color}
            fillOpacity={1}
            dot={false}
            activeDot={false}
            isAnimationActive={false}
          />
        ))}
        {columns.map(([name, cols, color, width]) => (
          <Line
            key={"cols-" + name}
            data={toColumns(cols)}
            dataKey="v"
            stroke={color}
            strokeWidth={width}
            dot={false}
            activeDot={false}
            isAnimationActive={false}
          />
        ))}

        {/* channel marker at the left edge */}
        <Line data={toColumns([[2, -127, -120]])} dataKey="v" stroke={PINK} strokeWidth={4} dot={false} isAnimationActive={false} />
        <Line data={toColumns([[3, -147, -125], [6, -147, -135]])} dataKey="v" stroke={YELLOW} strokeWidth={3} dot={false} isAnimationActive={false} />
        <Line data={toColumns([[2, -155, -145], [5, -155, -140], [8, -155, -148]])} dataKey="v" stroke={GREEN} strokeWidth={3} dot={false} isAnimationActive={false} />

        {/* dash-dot measurement levels */}
        {measureLevels.map((v) => (
          <Line
            key={"level-" + v}
            data={hLine(12, 1858, v)}
            dataKey="v"
            stroke={PURPLE}
            strokeWidth={2.5}
            strokeDasharray="22 8 7 7 7 6"
            dot={false}
            isAnimationActive={false}
          />
        ))}

        {/* pkpk cursors */}
        <Scatter data={upArrows.map(([t, v]) => ({ t, v }))} dataKey="v" shape={(p: any) => <Triangle cx={p.cx} cy={p.cy} />} isAnimationActive={false} />
        <Scatter data={downArrows.map(([t, v]) => ({ t, v }))} dataKey="v" shape={(p: any) => <Triangle cx={p.cx} cy={p.cy} down />} isAnimationActive={false} />
        {leaderDrops.map(([t, lo, hi]) => (
          <Line key={"drop-" + t} data={[{ t, v: lo }, { t, v: hi }]} dataKey="v" stroke="#e8e8ff" strokeWidth={1.5} dot={false} isAnimationActive={false} />
        ))}
        {leaderBars.map(([a, b, v]) => (
          <Line key={"bar-" + a} data={hLine(a, b, v)} dataKey="v" stroke="#e8e8e8" strokeWidth={2} dot={false} isAnimationActive={false} />
        ))}
        {leaderLines.map((pts, i) => (
          <Line key={"lead-" + i} data={pts.map(([t, v]) => ({ t, v }))} dataKey="v" stroke="#f0f0f0" strokeWidth={1.5} strokeDasharray="3 1" dot={false} isAnimationActive={false} />
        ))}
        {pkpkLabels.map(([t, v]) => (
          <ReferenceDot
            key={"pk-" + t}
            x={t}
            y={v}
            r={0}
            stroke="none"
            fill="none"
            label={{ value: "pkpk", position: "center", fill: "#dcdcdc", fontSize: 20 }}
          />
        ))}
      </ComposedChart>

      {/* top window edge */}
      <div style={{ position: "absolute", left: 0, top: 0, width: 1858, height: 3, background: "#40356e" }} />

      {/* annotation box */}
      <div
        style={{
          position: "absolute",
          left: 544,
          top: 303,
          width: 770,
          height: 225,
          background: "#fff",
          color: "#000",
          fontFamily: "'Liberation Sans'",
          fontSize: 42.5,
          lineHeight: "51px",
          padding: "12px 0 0 23px",
          boxSizing: "border-box",
          whiteSpace: "nowrap",
        }}
      >
        <div style={{ fontWeight: 700 }}>{annotationTitle}</div>
        {annotationLines.map((line) => (
          <div key={line}>{line}</div>
        ))}
      </div>
    </div>
  );
}
